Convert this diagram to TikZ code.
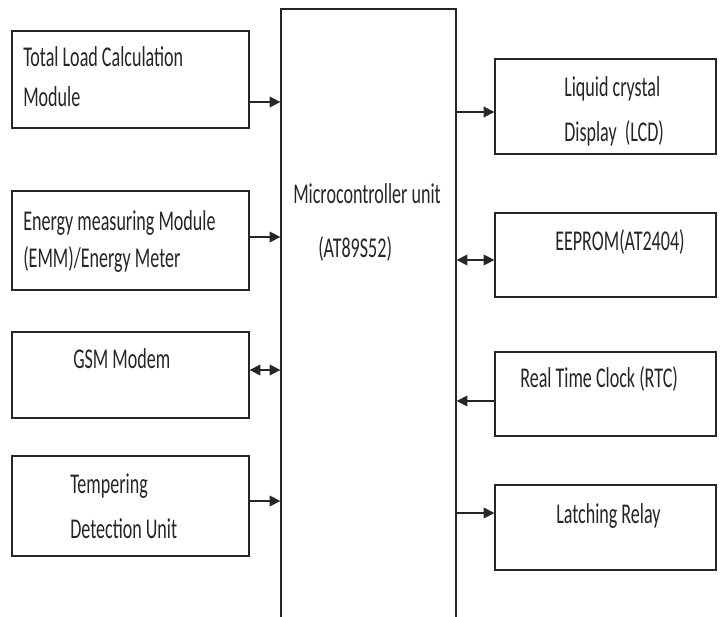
\documentclass[tikz,border=0pt]{standalone}
\usepackage{fontspec}
\setmainfont{Carlito}[FakeStretch=0.63]
\usetikzlibrary{arrows.meta}

\tikzset{
  blk/.style={draw=black!85, line width=1pt, inner sep=0pt},
  txt/.style={anchor=base west, inner sep=0pt, text=black!85, font=\fontsize{21.5pt}{24pt}\selectfont},
  arr/.style={line width=1.1pt, draw=black!85, -{Triangle[length=8pt,width=8pt]}},
  darr/.style={line width=1.1pt, draw=black!85, {Triangle[length=8pt,width=8pt]}-{Triangle[length=8pt,width=8pt]}}
}

\begin{document}
\begin{tikzpicture}[x=0.75pt, y=-0.75pt]
  \clip (0,0) rectangle (721,617);
  \fill[white] (0,0) rectangle (721,617);

  % blocks
  \node[blk, minimum width=177.75pt, minimum height=72.75pt] (tlc) at (130.5,79.5) {};
  \node[blk, minimum width=177.75pt, minimum height=74.25pt] (emm) at (130.5,240.5) {};
  \node[blk, minimum width=177.75pt, minimum height=64.5pt] (gsm) at (130.5,375) {};
  \node[blk, minimum width=177.75pt, minimum height=75pt] (tdu) at (130.5,506) {};
  \node[blk, minimum width=131.25pt, minimum height=473.25pt] (mcu) at (368.5,324.5) {};
  \node[blk, minimum width=165.75pt, minimum height=71.25pt] (lcd) at (605.5,106.5) {};
  \node[blk, minimum width=165.75pt, minimum height=63pt] (eeprom) at (605.5,255) {};
  \node[blk, minimum width=165.75pt, minimum height=63pt] (rtc) at (605.5,394) {};
  \node[blk, minimum width=165.75pt, minimum height=63.75pt] (relay) at (605.5,527.5) {};

  % labels
  \node[txt] (tlc1) at (23,66.5) {Total Load Calculation};
  \node[txt] (tlc2) at (23,107) {Module};
  \node[txt] (emm1) at (23,230) {Energy measuring Module};
  \node[txt] (emm2) at (23,267) {(EMM)/Energy Meter};
  \node[txt] (gsm1) at (73,368) {GSM Modem};
  \node[txt] (tdu1) at (70,493) {Tempering};
  \node[txt] (tdu2) at (70,538) {Detection Unit};
  \node[txt] (mcu1) at (293,203) {Microcontroller unit};
  \node[txt] (mcu2) at (318,257) {(AT89S52)};
  \node[txt] (lcd1) at (564,97) {Liquid crystal};
  \node[txt] (lcd2) at (564,142) {Display\ \ (LCD)};
  \node[txt] (eeprom1) at (555,250) {EEPROM(AT2404)};
  \node[txt] (rtc1) at (520,387) {Real Time Clock (RTC)};
  \node[txt] (relay1) at (556,523) {Latching Relay};

  % links
  \draw[arr] (tlc.east |- 0,102) -- (mcu.west |- 0,102);
  \draw[arr] (emm.east |- 0,237) -- (mcu.west |- 0,237);
  \draw[darr] (gsm.east |- 0,370) -- (mcu.west |- 0,370);
  \draw[arr] (tdu.east |- 0,501) -- (mcu.west |- 0,501);
  \draw[arr] (mcu.east |- 0,112) -- (lcd.west |- 0,112);
  \draw[darr] (mcu.east |- 0,260) -- (eeprom.west |- 0,260);
  \draw[arr] (rtc.west |- 0,401) -- (mcu.east |- 0,401);
  \draw[arr] (mcu.east |- 0,513) -- (relay.west |- 0,513);
\end{tikzpicture}
\end{document}
